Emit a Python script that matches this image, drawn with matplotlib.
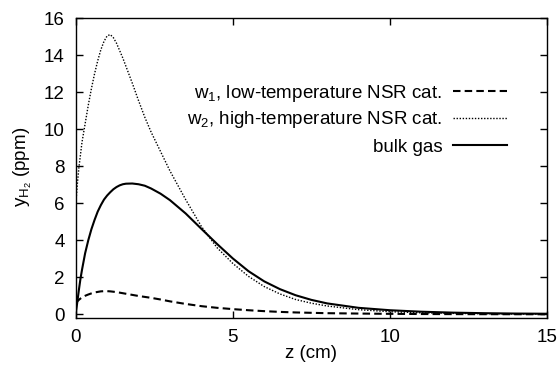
import matplotlib
matplotlib.use("Agg")
import matplotlib.pyplot as plt
from matplotlib.legend import Legend

plt.rcParams['font.family'] = ['Liberation Sans', 'DejaVu Sans']
plt.rcParams['mathtext.fontset'] = 'custom'
plt.rcParams['mathtext.rm'] = 'Liberation Sans'
plt.rcParams['mathtext.it'] = 'Liberation Sans'

z = [0, 0.05, 0.1, 0.15, 0.2, 0.3, 0.4, 0.5, 0.6, 0.7, 0.8, 0.9, 1.0, 1.1, 1.2,
     1.3, 1.4, 1.5, 1.6, 1.8, 2.0, 2.2, 2.4, 2.7, 3.0, 3.5, 4.0, 4.5, 5.0, 5.5,
     6.0, 6.5, 7.0, 7.5, 8.0, 9.0, 10.0, 11.0, 12.0, 13.0, 14.0, 15.0]
w1 = [0.6, 0.7, 0.78, 0.85, 0.91, 1.0, 1.07, 1.13, 1.18, 1.21, 1.24, 1.25, 1.25,
      1.24, 1.22, 1.2, 1.17, 1.14, 1.11, 1.05, 0.99, 0.94, 0.89, 0.8, 0.7, 0.56,
      0.44, 0.35, 0.28, 0.22, 0.17, 0.13, 0.1, 0.08, 0.06, 0.04, 0.025, 0.015,
      0.01, 0.006, 0.004, 0.002]
w2 = [5.9, 7.0, 7.9, 8.6, 9.3, 10.3, 11.3, 12.2, 13.0, 13.7, 14.3, 14.75, 15.05,
      15.12, 14.95, 14.65, 14.25, 13.85, 13.4, 12.5, 11.55, 10.65, 9.85, 8.8,
      7.75, 6.2, 4.75, 3.6, 2.75, 2.05, 1.5, 1.1, 0.8, 0.6, 0.45, 0.25, 0.14,
      0.08, 0.05, 0.03, 0.02, 0.01]
bulk = [0, 0.65, 1.3, 1.9, 2.4, 3.3, 4.0, 4.6, 5.1, 5.55, 5.9, 6.2, 6.42, 6.6,
        6.76, 6.88, 6.97, 7.03, 7.06, 7.07, 7.03, 6.95, 6.8, 6.52, 6.17, 5.45,
        4.62, 3.8, 3.02, 2.33, 1.78, 1.36, 1.03, 0.78, 0.59, 0.35, 0.22, 0.14,
        0.09, 0.06, 0.04, 0.03]

labels = ["w$_1$, low-temperature NSR cat.",
          "w$_2$, high-temperature NSR cat.",
          "bulk gas"]
xticks = [0, 5, 10, 15]
yticks = [0, 2, 4, 6, 8, 10, 12, 14, 16]

FS = 13.5
W, H = 557, 365
fig = plt.figure(figsize=(W/100, H/100), dpi=100)
ax = fig.add_axes([75.7/W, 47/H, (547-75.7)/W, (346.7-47)/H])

l1, = ax.plot(z, w1, color='black', lw=1.5, linestyle=(0, (3.6, 2.0)))
l2, = ax.plot(z, w2, color='black', lw=1.0, linestyle=(0, (1, 1.2)))
l3, = ax.plot(z, bulk, color='black', lw=1.5, linestyle='-')

ax.set_xlim(0, 15)
ax.set_ylim(-0.2, 16)
ax.set_xticks(xticks)
ax.set_yticks(yticks)
ax.tick_params(direction='in', length=5, width=1, top=True, right=True,
               labelsize=FS)
ax.tick_params(axis='x', pad=8)
ax.tick_params(axis='y', pad=8)
for s in ax.spines.values():
    s.set_linewidth(1)
ax.set_xlabel("z (cm)", fontsize=FS, labelpad=-1)
fig.text(23/W, (365-167)/H, "y$_{\\mathregular{H_2}}$ (ppm)", fontsize=FS,
         rotation=90, ha='center', va='center')

rows_y = [93, 120, 147]
for line, lab, yy in zip([l1, l2, l3], labels, rows_y):
    leg = Legend(ax, [line], [lab], loc='center right',
                 bbox_to_anchor=(507/W, (H-yy)/H),
                 bbox_transform=fig.transFigure, markerfirst=False,
                 frameon=False, fontsize=FS, handlelength=2.9,
                 handletextpad=0.55, borderpad=0, borderaxespad=0)
    ax.add_artist(leg)

fig.savefig("out.png", dpi=100)
